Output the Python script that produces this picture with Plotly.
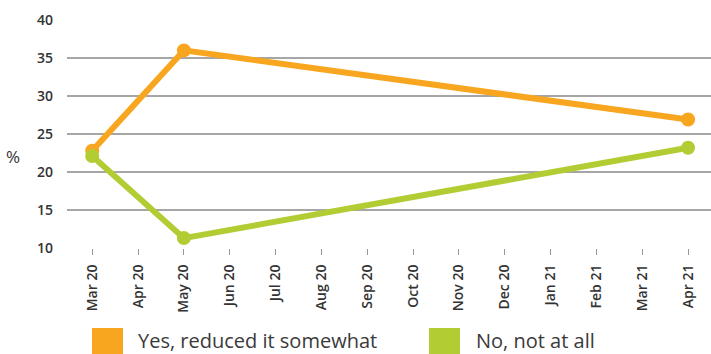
import plotly.graph_objects as go

months = ["Mar 20", "Apr 20", "May 20", "Jun 20", "Jul 20", "Aug 20", "Sep 20",
          "Oct 20", "Nov 20", "Dec 20", "Jan 21", "Feb 21", "Mar 21", "Apr 21"]
survey_months = ["Mar 20", "May 20", "Apr 21"]
yes_reduced_somewhat = [22.8, 36.0, 26.9]
no_not_at_all = [22.1, 11.3, 23.2]
y_ticks = [10, 15, 20, 25, 30, 35, 40]

ORANGE = "#f8a61f"
GREEN = "#b2cd33"
FONT = "Open Sans"

xpos = [months.index(m) for m in survey_months]
tick_idx = list(range(len(months)))

fig = go.Figure()
fig.add_trace(go.Scatter(x=xpos, y=yes_reduced_somewhat, mode="lines+markers",
                         name="Yes, reduced it somewhat",
                         line=dict(color=ORANGE, width=6),
                         marker=dict(color=ORANGE, size=14)))
fig.add_trace(go.Scatter(x=xpos, y=no_not_at_all, mode="lines+markers",
                         name="No, not at all",
                         line=dict(color=GREEN, width=6),
                         marker=dict(color=GREEN, size=14)))

L, R, T, B = 67, 0, 20, 106
W, H = 711, 354
pw, ph = W - L - R, H - T - B

def px_x(p):
    return (p - L) / pw

def px_y(p):
    return (H - B - p) / ph

shapes = []
annotations = []
legend_items = [("Yes, reduced it somewhat", ORANGE, 92, 137),
                ("No, not at all", GREEN, 429, 475)]
for text, col, sx, tx in legend_items:
    shapes.append(dict(type="rect", xref="paper", yref="paper",
                       x0=px_x(sx), x1=px_x(sx + 31), y0=px_y(328), y1=px_y(356),
                       fillcolor=col, line=dict(width=0), layer="above"))
    annotations.append(dict(xref="paper", yref="paper", x=px_x(tx), y=px_y(340.5),
                            xanchor="left", yanchor="middle", text=text, showarrow=False,
                            borderpad=0,
                            font=dict(family=FONT, size=20, color="#3a3a3a")))

annotations.append(dict(xref="paper", yref="paper", x=px_x(13), y=px_y(156),
                        xanchor="center", yanchor="middle", text="%", showarrow=False,
                        font=dict(family=FONT, size=17, color="#333333")))

fig.update_layout(
    width=W, height=H,
    margin=dict(l=L, r=R, t=T, b=B, pad=0),
    paper_bgcolor="white", plot_bgcolor="white",
    showlegend=False,
    shapes=shapes, annotations=annotations,
    font=dict(family=FONT, color="#333333"),
    xaxis=dict(range=[-0.55, 13.5], tickvals=tick_idx, ticktext=months,
               tickangle=-90, showgrid=False, zeroline=False,
               ticks="outside", ticklen=6, tickcolor="#999999", tickwidth=1,
               showline=False, ticklabelstandoff=4,
               tickfont=dict(family=FONT, size=14, color="#333333", weight=600)),
    yaxis=dict(range=[10, 40], tickvals=y_ticks, showgrid=True,
               gridcolor="#a6a6a6", gridwidth=1.5, zeroline=False,
               showline=False, ticks="", ticklabelstandoff=13,
               tickfont=dict(family=FONT, size=14, color="#333333", weight=600)),
)

fig.write_html("out.html")
